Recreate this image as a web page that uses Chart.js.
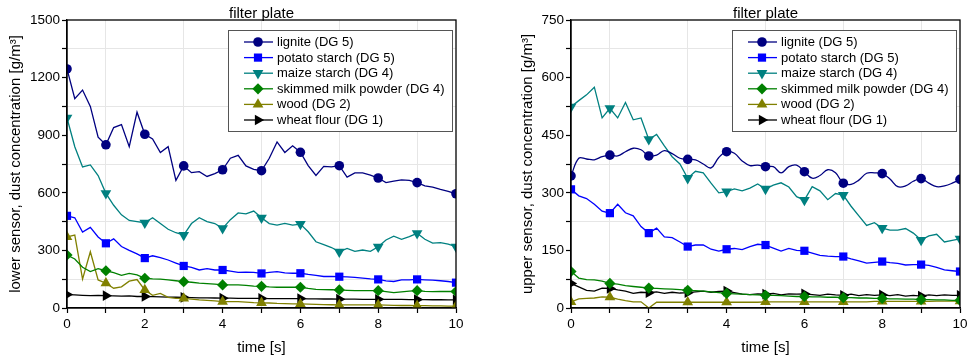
<!DOCTYPE html>
<html>
<head>
<meta charset="utf-8">
<script src="https://cdn.jsdelivr.net/npm/chart.js@4.4.1/dist/chart.umd.min.js"></script>
<style>
  body { margin: 0; background: #fff; }
  #left { position: absolute; left: 0; top: 0; }
  #right { position: absolute; left: 486px; top: 0; }
</style>
</head>
<body>
<canvas id="left" width="486" height="358"></canvas>
<canvas id="right" width="487" height="358"></canvas>
<script>
// time axis, 0.2 s steps
var times = [0, 0.2, 0.4, 0.6, 0.8, 1, 1.2, 1.4, 1.6, 1.8,
  2, 2.2, 2.4, 2.6, 2.8, 3, 3.2, 3.4, 3.6, 3.8,
  4, 4.2, 4.4, 4.6, 4.8, 5, 5.2, 5.4, 5.6, 5.8,
  6, 6.2, 6.4, 6.6, 6.8, 7, 7.2, 7.4, 7.6, 7.8,
  8, 8.2, 8.4, 8.6, 8.8, 9, 9.2, 9.4, 9.6, 9.8, 10];

var seriesNames = ["lignite (DG 5)", "potato starch (DG 5)", "maize starch (DG 4)",
  "skimmed milk powder (DG 4)", "wood (DG 2)", "wheat flour (DG 1)"];

// lower sensor [g/m³]
var lowerLignite = [1245, 1090, 1135, 1050, 890, 850, 940, 955, 840, 1020,
  905, 880, 810, 840, 665, 740, 705, 710, 685, 700,
  720, 780, 795, 740, 722, 715, 780, 865, 810, 845,
  811, 742, 690, 738, 735, 741, 682, 704, 704, 692,
  677, 653, 661, 667, 665, 653, 636, 630, 618, 608, 595];
var lowerPotato = [480, 470, 395, 420, 370, 337, 360, 320, 300, 282,
  260, 272, 262, 250, 234, 219, 212, 198, 205, 198,
  198, 192, 186, 187, 186, 180, 186, 189, 183, 181,
  181, 175, 170, 164, 164, 163, 162, 159, 156, 152,
  149, 141, 138, 146, 147, 149, 147, 145, 142, 138, 132];
var lowerMaize = [990, 840, 735, 745, 690, 597, 535, 485, 456, 450,
  444, 470, 440, 410, 392, 380, 440, 470, 450, 440,
  415, 460, 495, 490, 505, 470, 440, 432, 441, 432,
  437, 397, 345, 330, 315, 293, 310, 295, 302, 295,
  319, 354, 374, 358, 372, 389, 358, 338, 340, 333, 319];
var lowerMilk = [276, 255, 212, 190, 205, 194, 184, 170, 180, 172,
  155, 152, 150, 147, 142, 137, 134, 130, 127, 124,
  120, 120, 120, 118, 114, 113, 110, 108, 108, 108,
  108, 102, 97, 96, 95, 94, 92, 90, 90, 90,
  90, 85, 80, 84, 88, 90, 87, 85, 86, 87, 86];
var lowerWood = [370, 380, 150, 293, 146, 129, 103, 110, 140, 148,
  94, 66, 76, 55, 50, 50, 46, 42, 40, 37,
  33, 33, 33, 31, 28, 27, 26, 24, 23, 22,
  21, 20, 19, 18, 17, 16, 16, 16, 16, 16,
  16, 15, 14, 13, 13, 12, 12, 11, 11, 10, 10];
var lowerWheat = [70, 68, 66, 64, 66, 64, 63, 62, 63, 60,
  60, 59, 58, 57, 56, 55, 54, 53, 53, 52,
  51, 51, 50, 50, 50, 50, 49, 49, 49, 49,
  49, 48, 48, 47, 47, 46, 46, 46, 45, 45,
  45, 45, 45, 45, 44, 44, 44, 43, 43, 42, 42];

// upper sensor [g/m³]
var upperLignite = [344, 390, 388, 386, 394, 398, 396, 407, 416, 412,
  396, 398, 410, 402, 390, 387, 386, 375, 365, 392,
  407, 403, 383, 371, 372, 368, 368, 352, 368, 372,
  355, 338, 345, 360, 352, 325, 322, 333, 351, 352,
  350, 336, 316, 318, 330, 337, 325, 316, 318, 325, 335];
var upperPotato = [309, 292, 285, 270, 252, 247, 270, 248, 240, 212,
  195, 208, 185, 183, 172, 160, 164, 164, 153, 148,
  153, 155, 152, 160, 166, 164, 156, 148, 155, 150,
  149, 143, 137, 135, 134, 134, 128, 123, 117, 119,
  121, 118, 116, 112, 113, 113, 111, 106, 99, 97, 95];
var upperMaize = [524, 540, 555, 575, 495, 520, 495, 535, 490, 495,
  439, 452, 422, 394, 375, 338, 356, 352, 325, 300,
  303, 310, 305, 312, 323, 310, 320, 326, 315, 290,
  281, 316, 305, 282, 298, 294, 265, 240, 215, 222,
  208, 203, 203, 207, 195, 177, 188, 192, 172, 176, 180];
var upperMilk = [95, 78, 74, 73, 70, 64, 62, 58, 56, 54,
  52, 51, 50, 49, 48, 46, 45, 44, 42, 40,
  38, 37, 36, 35, 34, 33, 33, 32, 31, 30,
  30, 29, 29, 28, 28, 27, 27, 26, 26, 25,
  25, 24, 24, 23, 23, 22, 22, 21, 21, 20, 20];
var upperWood = [16, 24, 25, 26, 29, 28, 23, 19, 16, 16,
  0, 15, 15, 15, 15, 15, 15, 15, 15, 15,
  15, 15, 15, 15, 15, 16, 16, 16, 16, 16,
  16, 16, 16, 16, 16, 16, 16, 16, 16, 17,
  17, 17, 17, 17, 17, 17, 17, 18, 18, 18, 18];
var upperWheat = [64, 55, 46, 44, 52, 51, 47, 44, 38, 41,
  40, 42, 38, 41, 39, 40, 42, 44, 41, 43,
  44, 40, 36, 35, 37, 36, 38, 34, 37, 36,
  37, 35, 33, 36, 34, 33, 36, 32, 35, 33,
  34, 32, 35, 31, 33, 31, 34, 32, 34, 33, 33];

var colors = ["#000080", "#0000ff", "#008080", "#008000", "#808000", "#000000"];
var styles = [
  { pointStyle: "circle", rotation: 0, radius: 4.8 },
  { pointStyle: "rect", rotation: 0, radius: 5.8 },
  { pointStyle: "triangle", rotation: 180, radius: 6.2 },
  { pointStyle: "rectRot", rotation: 0, radius: 5.6 },
  { pointStyle: "triangle", rotation: 0, radius: 6.2 },
  { pointStyle: "triangle", rotation: 90, radius: 6.2 }
];

var font = "'Liberation Sans', Arial, sans-serif";

function pairs(values) {
  return values.map(function (v, i) { return { x: times[i], y: v }; });
}

function makeDatasets(list, smoothFirst) {
  return list.map(function (values, i) {
    var st = styles[i];
    return {
      label: seriesNames[i],
      data: pairs(values),
      borderColor: colors[i],
      backgroundColor: colors[i],
      borderWidth: 1.3,
      tension: (smoothFirst && i === 0) ? 0.4 : 0,
      pointStyle: st.pointStyle,
      pointRotation: st.rotation,
      pointBorderWidth: 0,
      pointBackgroundColor: colors[i],
      pointRadius: function (ctx) {
        var p = ctx.raw;
        if (!p || ctx.dataIndex % 5 !== 0 || p.y === 0) return 0;
        return st.radius;
      },
      pointHoverRadius: 0
    };
  });
}

// frame round the plot + boxed legend inside it
var framePlugin = {
  id: "frame",
  afterDraw: function (chart) {
    var ctx = chart.ctx, a = chart.chartArea;
    ctx.save();
    ctx.strokeStyle = "#000";
    ctx.lineWidth = 1.3;
    ctx.strokeRect(a.left, a.top, a.right - a.left, a.bottom - a.top);

    var bw = 224, bh = 101;
    var bx = a.right - 4 - bw, by = a.top + 10;
    ctx.fillStyle = "#fff";
    ctx.fillRect(bx, by, bw, bh);
    ctx.strokeStyle = "#555";
    ctx.lineWidth = 1;
    ctx.strokeRect(bx + 0.5, by + 0.5, bw, bh);

    ctx.font = "13px " + font;
    ctx.textBaseline = "middle";
    ctx.textAlign = "left";
    chart.data.datasets.forEach(function (ds, i) {
      var y = by + 12 + i * 15.6;
      ctx.strokeStyle = ds.borderColor;
      ctx.lineWidth = 1.3;
      ctx.beginPath();
      ctx.moveTo(bx + 16, y);
      ctx.lineTo(bx + 45, y);
      ctx.stroke();
      ctx.fillStyle = ds.borderColor;
      Chart.helpers.drawPoint(ctx, {
        pointStyle: styles[i].pointStyle,
        rotation: styles[i].rotation,
        radius: styles[i].radius,
        borderWidth: 0
      }, bx + 30, y);
      ctx.fillStyle = "#000";
      ctx.fillText(ds.label, bx + 49, y + 0.5);
    });
    ctx.restore();
  }
};

function makeChart(id, list, yMax, yStep, yTitle, padLeft, padRight, yWidth, smoothFirst) {
  return new Chart(document.getElementById(id), {
    type: "line",
    data: { datasets: makeDatasets(list, smoothFirst) },
    plugins: [framePlugin],
    options: {
      responsive: false,
      animation: false,
      events: [],
      layout: { padding: { left: padLeft, right: padRight, top: 0, bottom: 0 } },
      plugins: {
        legend: { display: false },
        tooltip: { enabled: false },
        title: {
          display: true,
          text: "filter plate",
          fullSize: false,
          color: "#000",
          font: { family: font, size: 15, weight: "normal" },
          padding: { top: 5, bottom: -3 }
        }
      },
      scales: {
        x: {
          type: "linear",
          min: 0,
          max: 10,
          afterFit: function (s) { s.height = 50; },
          ticks: {
            stepSize: 1,
            autoSkip: false,
            maxRotation: 0,
            padding: 3,
            color: "#000",
            font: { family: font, size: 13.5 },
            callback: function (v) { return v % 2 === 0 ? v : ""; }
          },
          grid: {
            color: function (ctx) {
              return ctx.tick && ctx.tick.value % 2 === 1 ? "#e6e6e6" : "rgba(0,0,0,0)";
            },
            tickColor: "#000",
            tickLength: 5,
            tickWidth: 1.2
          },
          border: { display: true, color: "#000", width: 1.3 },
          title: {
            display: true,
            text: "time [s]",
            color: "#000",
            font: { family: font, size: 15 },
            padding: { top: 0, bottom: 1 }
          }
        },
        y: {
          min: 0,
          max: yMax,
          afterFit: function (s) { s.width = yWidth; },
          ticks: {
            stepSize: yStep,
            autoSkip: false,
            padding: 2,
            color: "#000",
            font: { family: font, size: 13.5 },
            callback: function (v) { return Math.round(v / yStep) % 2 === 0 ? v : ""; }
          },
          grid: {
            color: function (ctx) {
              return ctx.tick && Math.round(ctx.tick.value / yStep) % 2 === 1 ? "#e6e6e6" : "rgba(0,0,0,0)";
            },
            tickColor: "#000",
            tickLength: 5,
            tickWidth: 1.2
          },
          border: { display: true, color: "#000", width: 1.3 },
          title: {
            display: true,
            text: yTitle,
            color: "#000",
            font: { family: font, size: 15 },
            padding: { top: 4, bottom: 0 }
          }
        }
      }
    }
  });
}

makeChart("left",
  [lowerLignite, lowerPotato, lowerMaize, lowerMilk, lowerWood, lowerWheat],
  1500, 150, "lower sensor, dust concentration [g/m³]", 3, 30, 64, false);

makeChart("right",
  [upperLignite, upperPotato, upperMaize, upperMilk, upperWood, upperWheat],
  750, 75, "upper sensor, dust concentration [g/m³]", 29, 13, 56, true);
</script>
</body>
</html>
